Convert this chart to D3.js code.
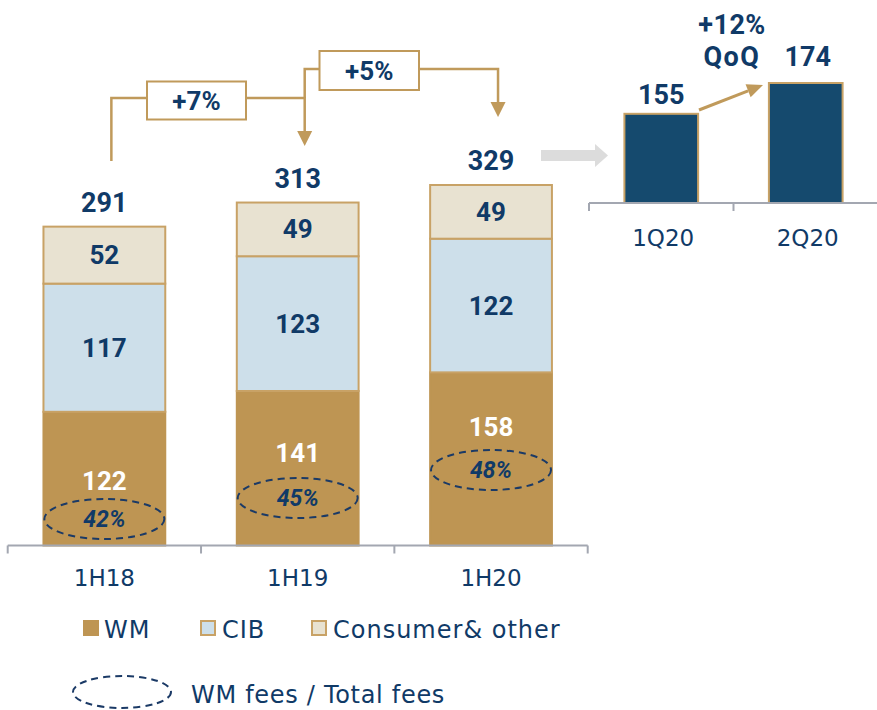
<!DOCTYPE html>
<html><head><meta charset="utf-8">
<script src="https://cdn.jsdelivr.net/npm/d3@7"></script>
<style>body{margin:0;background:#fff} svg{display:block}</style>
</head><body>
<svg id="c" width="877" height="710"></svg>
<script>
// ---- data ----
const categories = ["1H18", "1H19", "1H20"];
const wm = [122, 141, 158];
const cib = [117, 123, 122];
const consumer = [52, 49, 49];
const totals = [291, 313, 329];
const wmShare = ["42%", "45%", "48%"];
const growth = ["+7%", "+5%"];
const quarters = ["1Q20", "2Q20"];
const quarterValues = [155, 174];
const qoqLabel = ["+12%", "QoQ"];
const seriesNames = ["WM", "CIB", "Consumer& other"];
const ellipseLegend = "WM fees / Total fees";

// ---- style ----
const navy = "#103a67", gold = "#be9553", goldLine = "#c09a5b";
const cibFill = "#cddfea", consFill = "#e8e2d1", barStroke = "#c8a266";
const qFill = "#154a6e", axisCol = "#a3a7b1", grayArrow = "#dcdcdc";
const bold = "Roboto, 'DejaVu Sans', sans-serif";
const reg = "'DejaVu Sans', sans-serif";
const fills = [gold, cibFill, consFill];

const svg = d3.select("#c");

// ---- main stacked chart ----
const x = d3.scaleBand().domain(categories).range([7.7, 587.7]).paddingInner(0.37).paddingOuter(0.185);
const y = d3.scaleLinear().domain([0, 329]).range([545.5, 185]);

const rows = categories.map((c, i) => ({cat: c, WM: wm[i], CIB: cib[i], "Consumer& other": consumer[i]}));
const stacked = d3.stack().keys(seriesNames)(rows);

const gBars = svg.append("g");
stacked.forEach((s, si) => {
  gBars.selectAll(null).data(s).enter().append("rect")
    .attr("x", d => x(d.data.cat))
    .attr("width", x.bandwidth())
    .attr("y", d => y(d[1]))
    .attr("height", d => y(d[0]) - y(d[1]))
    .attr("fill", fills[si])
    .attr("stroke", si === 0 ? gold : barStroke)
    .attr("stroke-width", 2);
});

// axis
const axisG = svg.append("g").attr("transform", "translate(0,545.5)");
axisG.append("line").attr("x1", 7.7).attr("x2", 587.7).attr("stroke", axisCol).attr("stroke-width", 2);
const step = x.step();
d3.range(categories.length + 1).forEach(k => {
  const tx = 7.7 + k * step;
  axisG.append("line").attr("x1", tx).attr("x2", tx).attr("y1", 0).attr("y2", 8).attr("stroke", axisCol).attr("stroke-width", 2);
});
svg.selectAll(".xl").data(categories).enter().append("text")
  .attr("x", d => x(d) + x.bandwidth() / 2).attr("y", 586)
  .attr("text-anchor", "middle").attr("font-family", reg).attr("font-size", 23)
  .attr("fill", navy).text(d => d);

// segment labels
const cx = d => x(d) + x.bandwidth() / 2;
categories.forEach((c, i) => {
  const base = wm[i];
  svg.append("text").attr("x", cx(c)).attr("y", (y(base + cib[i]) + y(totals[i])) / 2 + 9)
    .attr("text-anchor", "middle").attr("font-family", bold).attr("font-weight", 700)
    .attr("font-size", 26).attr("fill", navy).text(consumer[i]);
  svg.append("text").attr("x", cx(c)).attr("y", (y(base) + y(base + cib[i])) / 2 + 9)
    .attr("text-anchor", "middle").attr("font-family", bold).attr("font-weight", 700)
    .attr("font-size", 26).attr("fill", navy).text(cib[i]);
  svg.append("text").attr("x", cx(c)).attr("y", y(totals[i]) - 15)
    .attr("text-anchor", "middle").attr("font-family", bold).attr("font-weight", 700)
    .attr("font-size", 27).attr("fill", navy).text(totals[i]);
});

// WM labels + ellipses (layout positions)
const wmLabelY = [481, 453, 427];
const ellY = [519, 498, 470];
categories.forEach((c, i) => {
  svg.append("text").attr("x", cx(c)).attr("y", wmLabelY[i] + 9)
    .attr("text-anchor", "middle").attr("font-family", bold).attr("font-weight", 700)
    .attr("font-size", 26).attr("fill", "#ffffff").text(wm[i]);
  svg.append("ellipse").attr("cx", cx(c)).attr("cy", ellY[i]).attr("rx", 60).attr("ry", 20)
    .attr("fill", "none").attr("stroke", "#1b3a66").attr("stroke-width", 2).attr("stroke-dasharray", "7,5");
  svg.append("text").attr("x", cx(c)).attr("y", ellY[i] + 8)
    .attr("text-anchor", "middle").attr("font-family", bold).attr("font-weight", 700)
    .attr("font-style", "italic").attr("font-size", 23).attr("fill", navy).text(wmShare[i]);
});

// growth brackets
const ax = i => cx(categories[i]) + 7;
const lvl1 = 98, lvl2 = 69;
const gA = svg.append("g").attr("stroke", goldLine).attr("stroke-width", 2.5).attr("fill", "none");
gA.append("path").attr("d", `M${ax(0)},161 V${lvl1} H${ax(1)} V131`);
gA.append("path").attr("d", `M${ax(1)},${lvl1} V${lvl2} H${ax(2)} V103`);
function arrowHead(xc, tip) {
  svg.append("path").attr("d", `M${xc - 7.5},${tip - 15} L${xc + 7.5},${tip - 15} L${xc},${tip} Z`).attr("fill", goldLine);
}
arrowHead(ax(1), 146);
arrowHead(ax(2), 117);
const boxes = [{x0: 147, x1: 246, y0: 81.5, y1: 119.5}, {x0: 319.5, x1: 419, y0: 51, y1: 90}];
boxes.forEach((b, i) => {
  svg.append("rect").attr("x", b.x0).attr("y", b.y0).attr("width", b.x1 - b.x0).attr("height", b.y1 - b.y0)
    .attr("fill", "#fff").attr("stroke", goldLine).attr("stroke-width", 2);
  svg.append("text").attr("x", (b.x0 + b.x1) / 2).attr("y", (b.y0 + b.y1) / 2 + 9.5)
    .attr("text-anchor", "middle").attr("font-family", bold).attr("font-weight", 700)
    .attr("font-size", 26).attr("fill", navy).text(growth[i]);
});

// gray arrow
svg.append("path").attr("d", "M541,150 H595 V144 L608,155.5 L595,167 V161 H541 Z").attr("fill", grayArrow);

// ---- quarterly chart ----
const xq = d3.scaleBand().domain(quarters).range([589, 878]).paddingInner(0.49).paddingOuter(0.245);
const yq = d3.scaleLinear().domain([100, 174]).range([203, 83]);
svg.selectAll(".qb").data(quarters).enter().append("rect")
  .attr("x", d => xq(d)).attr("width", xq.bandwidth())
  .attr("y", (d, i) => yq(quarterValues[i])).attr("height", (d, i) => yq(100) - yq(quarterValues[i]))
  .attr("fill", qFill).attr("stroke", barStroke).attr("stroke-width", 2);
const qAxis = svg.append("g").attr("transform", "translate(0,203)");
qAxis.append("line").attr("x1", 589).attr("x2", 877).attr("stroke", axisCol).attr("stroke-width", 2);
[589, 589 + xq.step(), 589 + 2 * xq.step()].forEach(tx => {
  qAxis.append("line").attr("x1", tx).attr("x2", tx).attr("y1", 0).attr("y2", 8).attr("stroke", axisCol).attr("stroke-width", 2);
});
svg.selectAll(".ql").data(quarters).enter().append("text")
  .attr("x", d => xq(d) + xq.bandwidth() / 2 + 2).attr("y", 246)
  .attr("text-anchor", "middle").attr("font-family", reg).attr("font-size", 23)
  .attr("fill", navy).text(d => d);
const qLabOff = [10, 17];
quarters.forEach((q, i) => {
  svg.append("text").attr("x", xq(q) + xq.bandwidth() / 2 + (i ? 2 : 0)).attr("y", yq(quarterValues[i]) - qLabOff[i])
    .attr("text-anchor", "middle").attr("font-family", bold).attr("font-weight", 700)
    .attr("font-size", 27).attr("fill", navy).text(quarterValues[i]);
});
svg.append("text").attr("x", 732).attr("y", 34).attr("text-anchor", "middle").attr("font-family", bold)
  .attr("font-weight", 700).attr("font-size", 27).attr("letter-spacing", 0.5).attr("fill", navy).text(qoqLabel[0]);
svg.append("text").attr("x", 732).attr("y", 66).attr("text-anchor", "middle").attr("font-family", bold)
  .attr("font-weight", 700).attr("font-size", 27).attr("letter-spacing", 1.5).attr("fill", navy).text(qoqLabel[1]);
const ang = Math.atan2(85 - 110, 763 - 699);
const tipX = 763, tipY = 85, hl = 16, hw = 7;
const bx = tipX - hl * Math.cos(ang), by = tipY - hl * Math.sin(ang);
svg.append("line").attr("x1", 699).attr("y1", 110).attr("x2", bx).attr("y2", by).attr("stroke", goldLine).attr("stroke-width", 3);
svg.append("path").attr("d",
  `M${tipX},${tipY} L${bx + hw * Math.sin(ang)},${by - hw * Math.cos(ang)} L${bx - hw * Math.sin(ang)},${by + hw * Math.cos(ang)} Z`)
  .attr("fill", goldLine);

// ---- legend ----
const legX = [83, 200, 311];
const legText = [104, 222, 333];
seriesNames.forEach((n, i) => {
  svg.append("rect").attr("x", legX[i] + 1).attr("y", 621).attr("width", 14).attr("height", 14)
    .attr("fill", fills[i]).attr("stroke", i === 0 ? gold : barStroke).attr("stroke-width", 2);
  svg.append("text").attr("x", legText[i]).attr("y", 638).attr("font-family", reg).attr("font-size", 24)
    .attr("letter-spacing", 1).attr("fill", navy).text(n);
});
svg.append("ellipse").attr("cx", 122).attr("cy", 692).attr("rx", 49).attr("ry", 16)
  .attr("fill", "none").attr("stroke", "#1b3a66").attr("stroke-width", 2).attr("stroke-dasharray", "7,5");
svg.append("text").attr("x", 191).attr("y", 703).attr("font-family", reg).attr("font-size", 24)
  .attr("letter-spacing", 0.7).attr("fill", navy).text(ellipseLegend);
</script>
</body></html>
